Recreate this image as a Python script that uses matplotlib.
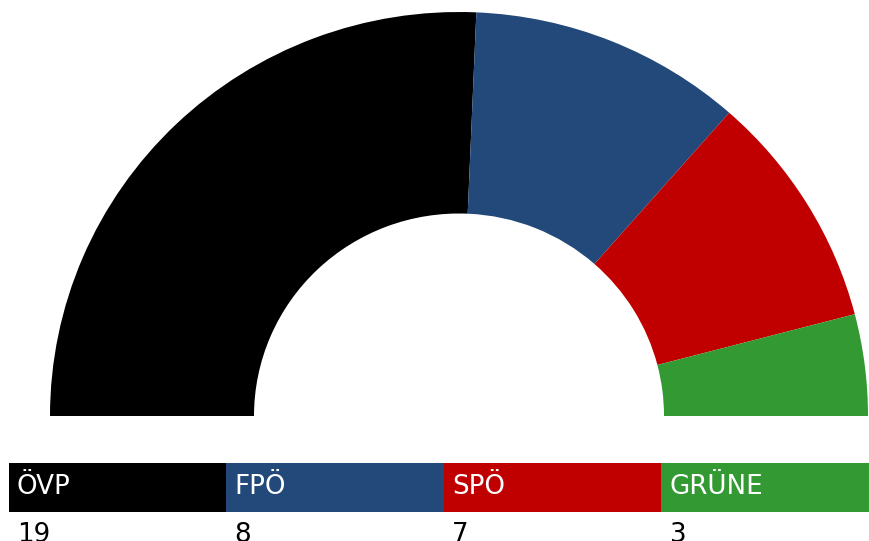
import matplotlib
matplotlib.use("Agg")
from matplotlib import pyplot as plt

# datos
partidos = ['ÖVP', 'FPÖ', 'SPÖ', 'GRÜNE']
mandatos = [19, 8, 7, 3]
colores = ['#000000', '#22497a', '#c00000', '#339933']

W, H = 869, 541
fig = plt.figure(figsize=(W / 100, H / 100), dpi=100)

#%% semicirculo
cx, cy = 459, 416   # centro en pixeles
r_ext_x, r_ext_y = 409, 404
r_int = 205

ax = fig.add_axes([(cx - r_ext_x) / W, (H - cy) / H, 2 * r_ext_x / W, r_ext_y / H])
valores = mandatos + [sum(mandatos)]  # mitad inferior invisible
ax.pie(valores, colors=colores + ['none'], startangle=180, counterclock=False,
       radius=1, wedgeprops=dict(width=1 - r_int / r_ext_x, linewidth=0))
ax.set_aspect('auto')
ax.set_xlim(-1, 1)
ax.set_ylim(0, 1)
ax.axis('off')

#%% leyenda con cajas
x0, x1 = 9, 869
y0, y1 = 463, 512
ax2 = fig.add_axes([x0 / W, (H - y1) / H, (x1 - x0) / W, (y1 - y0) / H])
ax2.bar(range(len(partidos)), [1] * len(partidos), width=1, align='edge', color=colores, linewidth=0)
ax2.set_xlim(0, 3.955)
ax2.set_ylim(0, 1)
ax2.axis('off')

ancho = 217.5
for i, (p, m) in enumerate(zip(partidos, mandatos)):
    xt = x0 + 8 + i * ancho
    fig.text(xt / W, 1 - 494 / H, p, color='white', fontsize=18.8,
             family='DejaVu Sans', va='baseline', ha='left')
    fig.text(xt / W, 1 - 542 / H, str(m), color='black', fontsize=18.8,
             family='DejaVu Sans', va='baseline', ha='left')

plt.savefig('out.png', dpi=100)
